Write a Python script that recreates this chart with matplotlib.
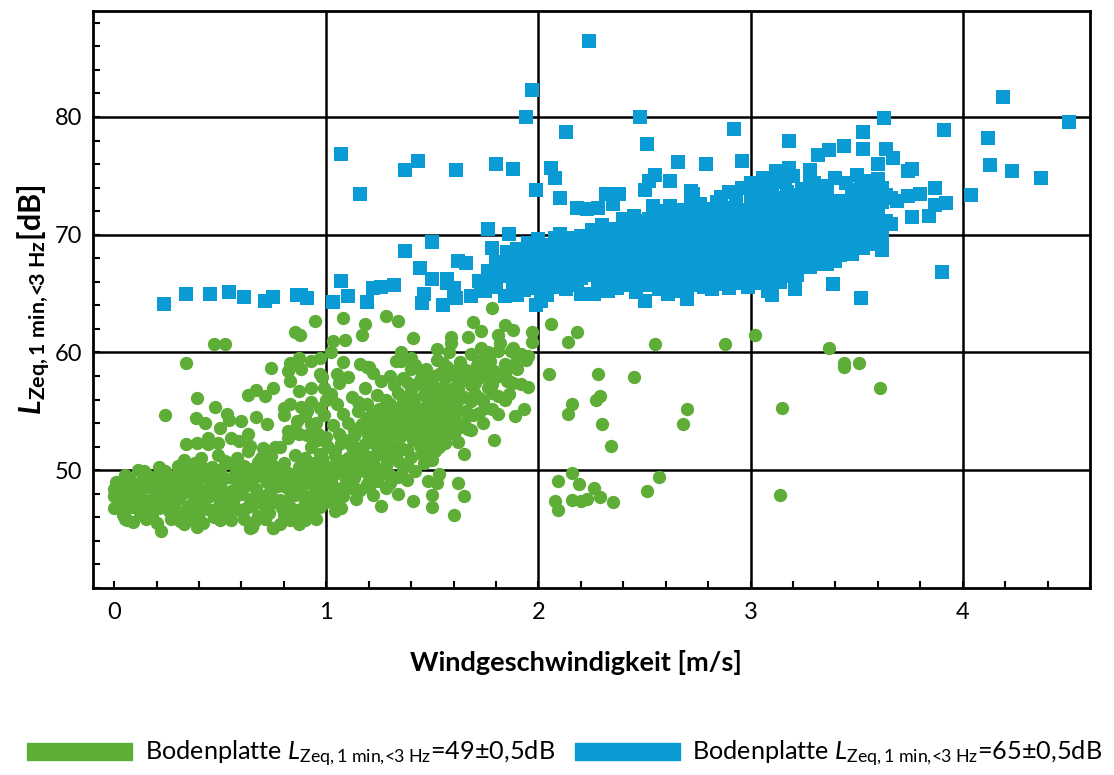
import numpy as np
import matplotlib
matplotlib.use('Agg')
import matplotlib.pyplot as plt
from matplotlib.patches import Patch
from matplotlib.ticker import MultipleLocator

# colours of the two measuring series
GREEN = '#5DAD36'
BLUE = '#0A9BD5'

# green series: Bodenplatte 49 dB, dense low-wind core
green_core = [
    (0.09, 45.6), (0.2, 45.5), (0.31, 45.7), (0.42, 45.5), (0.55, 45.8), (0.66, 45.6), (0.78, 45.4), (0.88, 45.7),
    (0.22, 44.8), (0.06, 45.8), (0.33, 45.4), (0.39, 45.2), (0.64, 45.1), (0.75, 45.1), (0.87, 45.4),
    (0.04, 46.2), (0.12, 46.4), (0.18, 46.1), (0.26, 46.5), (0.33, 46.2), (0.4, 46.4), (0.47, 46.0), (0.53, 46.3),
    (0.6, 46.5), (0.68, 46.1), (0.73, 46.4), (0.8, 46.2), (0.86, 46.6), (0.93, 46.3),
    (0.02, 47.1), (0.08, 46.9), (0.14, 47.2), (0.21, 46.8), (0.27, 47.1), (0.35, 47.0), (0.41, 47.3), (0.49, 46.9),
    (0.56, 47.2), (0.62, 46.8), (0.7, 47.1), (0.76, 47.3), (0.83, 46.9), (0.9, 47.2), (0.97, 46.9),
    (0.0, 47.8), (0.06, 47.6), (0.11, 47.9), (0.17, 47.5), (0.24, 47.8), (0.3, 47.6), (0.37, 47.9), (0.44, 47.7),
    (0.5, 47.5), (0.58, 47.9), (0.64, 47.6), (0.71, 47.8), (0.78, 47.5), (0.85, 47.9), (0.92, 47.7), (0.99, 47.6),
    (0.03, 48.5), (0.09, 48.3), (0.15, 48.6), (0.22, 48.4), (0.28, 48.2), (0.34, 48.6), (0.42, 48.3), (0.47, 48.5),
    (0.55, 48.2), (0.61, 48.6), (0.67, 48.4), (0.74, 48.2), (0.81, 48.6), (0.88, 48.3), (0.95, 48.5), (1.02, 48.2),
    (0.05, 49.1), (0.13, 49.2), (0.19, 48.9), (0.25, 49.3), (0.32, 49.0), (0.39, 49.2), (0.45, 49.0), (0.52, 49.3),
    (0.59, 48.9), (0.65, 49.2), (0.72, 49.0), (0.79, 49.3), (0.84, 49.0), (0.91, 49.2), (0.98, 48.9),
    (0.07, 49.3), (0.14, 49.9), (0.15, 49.7), (0.24, 49.9), (0.29, 49.6), (0.36, 49.9), (0.43, 49.7), (0.5, 50.0),
    (0.57, 49.7), (0.63, 49.9), (0.69, 49.6), (0.76, 50.0), (0.82, 49.8), (0.89, 49.9), (0.96, 49.7),
    (0.3, 50.4), (0.38, 50.6), (0.46, 50.3), (0.54, 50.6), (0.61, 50.4), (0.68, 50.7), (0.75, 50.4), (0.8, 50.6),
    (0.87, 50.3), (0.94, 50.6), (1.0, 50.4),
    (0.33, 50.9), (0.41, 51.0), (0.49, 51.3), (0.58, 51.0), (0.63, 51.6), (0.69, 51.0), (0.74, 51.2), (0.85, 51.3),
    (0.9, 51.0), (0.97, 51.4), (0.76, 52.0),
    (0.34, 52.2), (0.39, 52.3), (0.44, 52.7), (0.44, 52.2), (0.49, 52.3), (0.55, 52.7), (0.59, 52.5), (0.63, 53.1),
    (0.5, 53.6), (0.64, 52.1), (0.7, 51.9), (0.78, 52.0), (0.82, 52.7), (0.82, 53.3), (0.87, 53.1), (0.93, 52.0),
    (0.96, 53.1), (0.93, 53.9),
]

# extra points read from the solid part of the green core and band
green_fill = [
    (0.05, 46.6), (0.16, 46.7), (0.29, 46.6), (0.45, 46.6), (0.58, 46.7), (0.72, 46.6), (0.88, 46.7),
    (0.03, 47.4), (0.14, 47.5), (0.27, 47.4), (0.4, 47.4), (0.53, 47.5), (0.67, 47.4), (0.81, 47.4), (0.95, 47.3),
    (0.06, 48.1), (0.19, 48.0), (0.32, 48.0), (0.46, 48.1), (0.6, 48.0), (0.73, 48.1), (0.86, 48.0),
    (0.1, 48.8), (0.24, 48.7), (0.38, 48.8), (0.5, 48.7), (0.64, 48.8), (0.77, 48.7), (0.93, 48.8),
    (0.2, 49.5), (0.34, 49.5), (0.48, 49.4), (0.6, 49.5), (0.74, 49.4), (0.87, 49.5),
    (0.42, 50.2), (0.58, 50.1), (0.72, 50.2), (0.9, 50.2),
    (0.1, 46.9), (0.23, 47.2), (0.37, 46.7), (0.51, 47.0), (0.65, 47.0), (0.79, 46.8), (0.93, 47.0),
    (0.08, 48.0), (0.2, 48.3), (0.36, 48.3), (0.52, 47.9), (0.68, 48.0), (0.83, 48.2), (0.97, 48.0),
    (0.01, 49.0), (0.17, 49.4), (0.28, 49.0), (0.42, 49.5), (0.56, 49.3), (0.7, 49.4), (0.86, 49.1), (0.98, 49.5),
    (0.11, 50.0), (0.21, 50.3), (0.34, 50.3), (0.52, 50.8), (0.65, 50.1), (0.79, 50.3), (0.94, 50.0), (0.05, 49.6),
    (0.15, 45.9), (0.27, 45.9), (0.37, 45.9), (0.5, 45.8), (0.61, 45.9), (0.71, 45.9), (0.83, 45.8), (0.95, 45.9),
    (0.0, 46.8), (0.0, 48.4),
    (1.02, 49.0), (1.13, 49.3), (1.27, 49.8), (1.07, 50.8), (1.2, 50.4), (1.33, 51.3), (1.45, 51.4), (1.04, 51.6),
    (1.17, 51.7), (1.3, 52.3), (1.43, 52.8), (1.09, 52.6), (1.22, 52.6), (1.36, 53.3), (1.48, 53.3), (1.13, 53.4),
    (1.25, 53.5), (1.41, 54.2), (1.52, 54.2), (1.19, 54.4), (1.3, 54.3), (1.46, 55.2), (1.58, 55.2), (1.25, 55.2),
    (1.35, 55.2), (1.51, 56.1), (1.63, 56.4), (1.41, 56.1), (1.47, 57.1), (1.55, 57.1), (1.62, 56.9), (1.53, 58.2),
    (1.59, 58.4), (1.68, 58.0), (1.5, 58.0), (1.45, 58.2), (1.73, 59.4), (1.64, 57.7), (1.71, 58.9),
    (0.96, 47.9), (1.04, 47.6), (1.14, 47.6), (1.16, 48.3), (1.3, 48.9), (1.38, 49.2), (1.42, 49.9), (1.34, 49.4),
    (1.06, 49.9), (1.2, 49.5), (1.12, 50.7), (1.28, 50.4), (1.38, 50.5), (1.5, 50.9), (1.14, 51.9), (1.24, 51.5),
    (1.35, 51.9), (1.48, 52.3), (1.56, 52.3), (1.2, 52.8), (1.31, 53.2), (1.43, 53.3), (1.54, 53.5), (1.62, 53.6),
    (1.17, 53.9), (1.24, 53.9), (1.36, 54.2), (1.47, 54.3), (1.6, 54.6), (1.66, 55.0), (1.19, 55.6), (1.3, 55.0),
    (1.4, 55.0), (1.52, 55.1), (1.58, 55.7), (1.68, 55.9), (1.28, 56.0), (1.38, 56.2), (1.48, 56.3), (1.56, 56.1),
    (1.62, 56.0), (1.7, 57.4), (1.76, 57.0), (1.42, 57.2), (1.32, 57.2), (1.6, 57.0), (1.72, 56.1), (1.78, 56.6),
    (1.84, 56.0), (1.84, 58.3), (1.9, 59.6), (1.88, 58.9), (1.7, 58.3), (1.75, 58.0), (1.62, 58.6), (1.55, 59.1),
    (1.4, 59.5),
]

# green series: rising band between 0.9 and 2 m/s
green_rise = [
    (0.95, 46.8), (1.0, 47.3), (1.05, 46.9), (1.08, 47.8), (1.02, 48.8), (1.07, 48.5), (1.12, 48.9), (0.97, 49.5),
    (1.03, 49.6), (1.09, 49.4), (1.14, 49.8), (1.0, 50.2), (1.05, 50.5), (1.1, 50.3), (1.16, 50.6), (0.98, 51.0),
    (1.04, 51.2), (1.1, 51.0), (1.15, 51.4), (1.2, 51.1), (1.01, 52.0), (1.07, 52.3), (1.12, 52.0), (1.18, 52.2),
    (1.24, 52.0), (1.0, 52.8), (1.06, 53.1), (1.13, 52.9), (1.19, 53.2), (1.25, 52.8), (1.03, 53.8), (1.1, 54.0),
    (1.16, 53.7), (1.22, 54.1), (1.08, 54.8), (1.15, 55.0), (1.21, 54.7), (1.05, 55.6),
    (0.86, 54.2), (0.9, 54.6), (0.95, 54.0), (0.99, 54.7), (0.88, 55.4), (0.93, 55.8), (0.97, 55.3), (1.0, 56.0),
    (0.85, 53.5), (0.91, 53.0), (0.96, 52.6),
    (1.2, 48.6), (1.24, 49.2), (1.28, 48.5), (1.18, 49.9), (1.25, 50.1), (1.3, 49.6), (1.36, 50.2), (1.22, 50.8),
    (1.28, 51.0), (1.34, 50.8), (1.4, 51.1), (1.46, 50.6), (1.27, 51.8), (1.32, 52.0), (1.38, 51.7), (1.44, 52.1),
    (1.5, 51.6), (1.29, 52.6), (1.35, 52.9), (1.41, 52.6), (1.47, 53.0), (1.52, 52.6), (1.28, 53.6), (1.33, 53.9),
    (1.39, 53.5), (1.45, 53.9), (1.5, 53.6), (1.56, 54.0), (1.27, 54.6), (1.32, 54.9), (1.38, 54.5), (1.43, 54.8),
    (1.49, 54.5), (1.55, 54.9), (1.3, 55.6), (1.36, 55.8), (1.42, 55.5), (1.48, 55.8), (1.54, 55.5), (1.6, 55.9),
    (1.34, 56.6), (1.4, 56.8), (1.46, 56.4), (1.52, 56.7), (1.58, 56.5), (1.38, 57.5), (1.44, 57.7), (1.5, 57.4),
    (1.56, 57.8), (1.62, 57.4),
    (1.55, 53.0), (1.6, 54.1), (1.62, 55.0), (1.65, 56.2), (1.68, 57.2), (1.6, 58.1), (1.66, 58.5), (1.72, 57.8),
    (1.7, 56.5), (1.75, 55.3), (1.57, 58.8), (1.63, 59.2), (1.52, 59.4), (1.47, 58.6), (1.42, 58.9), (1.77, 59.3),
    (1.84, 59.0), (1.9, 58.6), (1.94, 59.4), (1.88, 60.4), (1.82, 60.8), (1.73, 60.4), (1.68, 59.9), (1.58, 60.0),
    (1.8, 57.9), (1.86, 57.6), (1.72, 54.9), (1.65, 54.0), (1.58, 53.2), (1.62, 52.4), (1.53, 52.0), (1.68, 53.4),
    (1.12, 56.2), (1.18, 57.0), (1.24, 56.4), (1.26, 57.6), (1.22, 58.3), (1.3, 58.0), (1.33, 59.3), (1.15, 55.8),
    (1.02, 56.5), (1.06, 57.4), (0.98, 57.9),
    (1.76, 60.0), (1.81, 60.1), (1.87, 60.1), (1.92, 59.9), (1.95, 59.7), (1.74, 58.7), (1.79, 58.4), (1.82, 58.2),
    (1.85, 57.6), (1.88, 57.4), (1.92, 57.3), (1.95, 57.1), (1.78, 57.3), (1.81, 56.3), (1.86, 56.5), (1.74, 55.9),
    (1.78, 55.2), (1.81, 54.8), (1.69, 54.7), (1.74, 54.0), (1.89, 54.6), (1.93, 55.2), (1.67, 53.5), (1.79, 52.6),
    (1.65, 51.4), (1.51, 51.6), (1.6, 53.1),
]

# green series: scattered single points
green_spread = [
    (0.946, 62.7), (0.85, 61.7), (0.875, 61.5), (0.47, 60.7), (0.52, 60.7), (0.34, 59.1), (1.08, 62.9), (1.18, 62.4),
    (1.17, 61.5), (1.28, 63.1), (1.09, 61.1), (1.03, 61.0), (1.02, 60.0), (1.08, 59.2), (1.16, 59.0), (1.19, 58.75),
    (1.05, 58.2), (1.1, 57.9), (0.74, 58.7), (0.24, 54.7), (0.39, 56.1), (0.475, 55.4), (0.385, 54.4), (0.43, 54.0),
    (0.53, 54.8), (0.54, 54.3), (0.67, 54.5), (0.72, 53.9), (0.6, 54.2), (0.8, 54.7), (0.83, 55.6), (0.91, 55.0),
    (0.63, 56.4), (0.67, 56.8), (0.71, 56.3), (0.75, 57.0), (0.83, 57.6), (0.83, 59.1), (0.87, 59.5), (0.93, 59.3),
    (0.97, 59.5), (0.82, 58.4), (0.88, 58.6), (0.8, 55.3), (0.87, 56.7), (0.93, 57.0), (0.99, 57.0), (0.97, 58.2),
    (1.02, 56.1), (0.75, 45.1), (0.9, 45.8), (0.65, 45.2), (1.26, 47.0), (1.04, 46.5), (0.01, 48.6), (0.05, 45.9),
    (1.34, 62.7), (1.41, 61.2), (1.78, 63.8), (1.59, 61.3), (1.59, 60.8), (1.69, 62.6), (1.73, 61.8), (1.67, 61.3),
    (1.84, 62.3), (1.88, 61.9), (1.81, 61.5), (1.97, 61.7), (1.97, 60.9), (1.52, 60.3), (1.35, 60.0), (1.35, 59.3),
    (1.2, 58.8), (1.4, 58.6), (1.36, 57.8),
    (1.67, 53.5), (1.53, 49.7), (1.48, 49.1), (1.52, 48.9), (1.62, 48.9), (1.65, 47.8), (1.5, 47.9), (1.5, 46.9),
    (1.6, 46.2), (1.41, 47.4), (1.34, 48.0), (1.22, 47.9), (1.24, 49.1), (1.19, 48.8), (1.12, 48.5), (1.07, 46.8),
    (2.05, 58.2), (2.06, 62.4), (2.18, 61.7), (2.14, 60.9), (2.16, 55.6), (2.14, 54.8), (2.28, 58.2), (2.29, 56.3),
    (2.27, 56.0), (2.3, 53.9), (2.34, 52.1), (2.45, 57.9), (2.55, 60.7), (2.88, 60.7), (3.02, 61.5), (3.37, 60.4),
    (3.44, 59.1), (3.44, 58.8), (3.51, 59.1), (3.61, 57.0), (3.15, 55.3), (2.7, 55.2), (2.68, 53.9),
    (2.16, 49.8), (2.09, 49.1), (2.19, 48.8), (2.08, 47.4), (2.09, 46.6), (2.16, 47.5), (2.2, 47.4), (2.23, 47.6),
    (2.26, 48.5), (2.29, 47.7), (2.35, 47.3), (2.51, 48.2), (2.57, 49.4), (3.14, 47.9),
]

# blue series: Bodenplatte 65 dB
blue_low = [
    (0.235, 64.1), (0.34, 65.0), (0.45, 65.0), (0.54, 65.1), (0.61, 64.7), (0.71, 64.4), (0.75, 64.7), (0.86, 64.9),
    (0.88, 64.9), (0.91, 64.6), (1.03, 64.3), (1.07, 66.1), (1.1, 64.8), (1.19, 64.3), (1.22, 65.5), (1.26, 65.6),
    (1.32, 65.7), (1.37, 68.6), (1.44, 67.2), (1.45, 64.2), (1.46, 65.0), (1.5, 66.2), (1.5, 69.4), (1.55, 64.0),
    (1.57, 65.9), (1.6, 65.5), (1.61, 64.6), (1.62, 67.8), (1.66, 67.6), (1.68, 64.8), (1.73, 65.6), (1.57, 66.2),
    (1.6, 64.6), (1.78, 68.9), (1.76, 70.5), (1.86, 70.1), (1.9, 64.9), (1.99, 64.0), (2.01, 64.4), (2.2, 65.0),
]

blue_core = [
    (1.75, 65.2), (1.84, 64.8), (1.93, 65.3), (2.04, 64.9), (2.13, 65.4), (2.26, 65.0), (2.37, 65.5), (2.46, 65.1),
    (2.57, 65.4), (2.66, 65.2), (2.78, 65.6), (2.9, 65.5),
    (1.72, 66.1), (1.8, 65.9), (1.88, 66.2), (1.96, 65.8), (2.04, 66.1), (2.12, 66.0), (2.2, 66.3), (2.28, 65.9),
    (2.36, 66.2), (2.44, 66.0), (2.52, 66.3), (2.6, 65.9), (2.68, 66.2), (2.76, 66.0), (2.84, 66.3), (2.92, 66.1),
    (3.0, 66.4), (3.08, 66.2), (3.16, 66.5),
    (1.76, 66.9), (1.84, 66.7), (1.92, 67.0), (2.0, 66.6), (2.08, 66.9), (2.16, 66.7), (2.24, 67.0), (2.32, 66.8),
    (2.4, 67.1), (2.48, 66.7), (2.56, 66.9), (2.64, 67.1), (2.72, 66.8), (2.8, 67.0), (2.88, 66.7), (2.96, 67.1),
    (3.04, 66.9), (3.12, 67.2), (3.2, 66.9), (3.28, 67.3),
    (1.8, 67.7), (1.88, 67.5), (1.96, 67.8), (2.04, 67.4), (2.12, 67.7), (2.2, 67.5), (2.28, 67.8), (2.36, 67.6),
    (2.44, 67.9), (2.52, 67.5), (2.6, 67.7), (2.68, 67.9), (2.76, 67.6), (2.84, 67.8), (2.92, 67.5), (3.0, 67.9),
    (3.08, 67.7), (3.16, 68.0), (3.24, 67.7), (3.32, 68.0), (3.4, 67.8),
    (1.85, 68.5), (1.93, 68.3), (2.01, 68.6), (2.09, 68.2), (2.17, 68.5), (2.25, 68.3), (2.33, 68.6), (2.41, 68.4),
    (2.49, 68.7), (2.57, 68.3), (2.65, 68.5), (2.73, 68.7), (2.81, 68.4), (2.89, 68.6), (2.97, 68.3), (3.05, 68.7),
    (3.13, 68.5), (3.21, 68.8), (3.29, 68.5), (3.37, 68.8), (3.45, 68.6), (3.53, 68.9),
    (1.95, 69.3), (2.03, 69.1), (2.11, 69.4), (2.19, 69.0), (2.27, 69.3), (2.35, 69.1), (2.43, 69.4), (2.51, 69.2),
    (2.59, 69.5), (2.67, 69.1), (2.75, 69.3), (2.83, 69.5), (2.91, 69.2), (2.99, 69.4), (3.07, 69.1), (3.15, 69.5),
    (3.23, 69.3), (3.31, 69.6), (3.39, 69.3), (3.47, 69.6), (3.55, 69.4), (3.62, 69.7),
    (2.1, 70.1), (2.2, 69.9), (2.3, 70.2), (2.38, 69.9), (2.46, 70.2), (2.54, 70.0), (2.62, 70.3), (2.7, 69.9),
    (2.78, 70.1), (2.86, 70.3), (2.94, 70.0), (3.02, 70.2), (3.1, 69.9), (3.18, 70.3), (3.26, 70.1), (3.34, 70.4),
    (3.42, 70.1), (3.5, 70.4), (3.58, 70.2),
    (2.3, 70.8), (2.42, 71.0), (2.52, 70.7), (2.6, 71.0), (2.68, 70.8), (2.76, 71.1), (2.84, 70.7), (2.92, 70.9),
    (3.0, 71.1), (3.08, 70.8), (3.16, 71.0), (3.24, 70.7), (3.32, 71.1), (3.4, 70.9), (3.48, 71.2), (3.56, 70.9),
    (3.64, 71.2),
    (2.45, 71.6), (2.58, 71.8), (2.7, 71.5), (2.8, 71.8), (2.88, 71.6), (2.96, 71.9), (3.04, 71.5), (3.12, 71.8),
    (3.2, 71.6), (3.28, 71.9), (3.36, 71.6), (3.44, 71.9), (3.52, 71.7), (3.6, 72.0),
    (2.62, 72.4), (2.76, 72.6), (2.9, 72.3), (3.0, 72.6), (3.1, 72.4), (3.18, 72.7), (3.26, 72.3), (3.34, 72.6),
    (3.42, 72.4), (3.5, 72.7), (3.58, 72.5),
    (2.86, 73.2), (3.0, 73.4), (3.12, 73.1), (3.22, 73.4), (3.32, 73.2), (3.5, 73.3), (3.58, 73.6), (3.66, 73.1),
    (2.96, 74.0), (3.1, 74.2), (3.24, 73.9), (3.36, 74.1), (3.55, 74.3), (3.62, 74.0),
    (3.06, 74.8), (3.2, 75.0), (3.4, 74.8), (3.5, 75.1), (3.6, 74.7),
]

# extra points read from the solid part of the blue band
blue_fill = [
    (1.8, 66.4), (1.9, 66.5), (2.0, 66.2), (2.1, 66.5), (2.18, 66.4), (2.28, 66.4), (2.38, 66.6), (2.48, 66.3),
    (2.58, 66.5), (2.68, 66.6), (2.78, 66.4), (2.88, 66.5), (2.98, 66.7), (3.1, 66.6),
    (1.84, 67.2), (1.94, 67.3), (2.06, 67.2), (2.16, 67.3), (2.26, 67.3), (2.36, 67.2), (2.46, 67.3), (2.56, 67.4),
    (2.66, 67.3), (2.76, 67.3), (2.86, 67.4), (2.96, 67.3), (3.06, 67.4), (3.16, 67.4), (3.3, 67.5),
    (1.9, 68.0), (2.0, 68.1), (2.1, 68.0), (2.2, 68.1), (2.3, 68.0), (2.4, 68.1), (2.5, 68.1), (2.6, 68.0),
    (2.7, 68.2), (2.8, 68.1), (2.9, 68.0), (3.0, 68.2), (3.1, 68.1), (3.2, 68.2), (3.3, 68.2), (3.42, 68.3),
    (2.0, 68.9), (2.12, 68.8), (2.22, 68.9), (2.32, 68.8), (2.42, 68.9), (2.52, 68.9), (2.62, 68.8), (2.72, 69.0),
    (2.82, 68.9), (2.92, 68.9), (3.02, 69.0), (3.12, 68.9), (3.22, 69.0), (3.32, 69.1), (3.42, 69.0), (3.52, 69.2),
    (2.15, 69.7), (2.25, 69.6), (2.35, 69.7), (2.45, 69.6), (2.55, 69.7), (2.65, 69.7), (2.75, 69.6), (2.85, 69.8),
    (2.95, 69.7), (3.05, 69.7), (3.15, 69.8), (3.25, 69.7), (3.35, 69.9), (3.45, 69.8), (3.55, 69.9),
    (2.36, 70.5), (2.48, 70.4), (2.58, 70.5), (2.66, 70.4), (2.74, 70.6), (2.82, 70.5), (2.9, 70.4), (2.98, 70.6),
    (3.06, 70.5), (3.14, 70.6), (3.22, 70.5), (3.3, 70.7), (3.38, 70.6), (3.46, 70.7), (3.54, 70.6), (3.62, 70.6),
    (2.52, 71.3), (2.64, 71.3), (2.76, 71.4), (2.84, 71.3), (2.92, 71.4), (3.0, 71.3), (3.08, 71.4), (3.16, 71.3),
    (3.24, 71.4), (3.32, 71.4), (3.4, 71.3), (3.48, 71.5), (3.56, 71.4),
    (2.7, 72.1), (2.84, 72.0), (2.95, 72.1), (3.05, 72.1), (3.14, 72.0), (3.22, 72.2), (3.3, 72.1), (3.38, 72.1),
    (3.46, 72.2), (3.54, 72.1),
    (2.93, 72.8), (3.06, 72.9), (3.16, 72.8), (3.27, 72.9), (3.44, 72.9), (3.54, 72.9), (3.05, 73.7), (3.17, 73.6),
    (3.3, 73.6), (3.48, 73.8), (3.12, 74.5), (3.45, 74.4), (3.56, 74.6),
    (1.78, 65.6), (1.88, 65.6), (1.98, 65.5), (2.08, 65.6), (2.18, 65.7), (2.3, 65.6), (2.4, 65.7), (2.5, 65.7),
    (2.62, 65.6), (2.72, 65.7), (2.84, 65.8), (2.96, 65.9), (3.05, 65.9), (3.14, 66.0),
    (1.76, 66.5), (1.86, 66.5), (1.96, 66.4), (2.06, 66.6), (2.14, 66.3), (2.24, 66.6), (2.34, 66.4), (2.42, 66.5),
    (2.54, 66.6), (2.62, 66.4), (2.72, 66.4), (2.82, 66.6), (2.92, 66.6), (3.02, 66.5), (3.14, 66.8), (3.22, 66.6),
    (1.82, 67.3), (1.9, 67.1), (2.02, 67.0), (2.1, 67.3), (2.2, 67.2), (2.3, 67.4), (2.42, 67.5), (2.52, 67.2),
    (2.62, 67.3), (2.72, 67.4), (2.82, 67.2), (2.92, 67.2), (3.02, 67.3), (3.12, 67.6), (3.22, 67.4), (3.36, 67.5),
    (1.86, 68.0), (1.96, 68.2), (2.06, 67.9), (2.16, 68.1), (2.24, 68.2), (2.34, 68.3), (2.46, 68.2), (2.56, 67.9),
    (2.66, 68.2), (2.76, 68.1), (2.86, 68.2), (2.96, 68.1), (3.06, 68.0), (3.16, 68.3), (3.26, 68.1), (3.36, 68.3),
    (3.48, 68.4),
    (1.9, 68.8), (2.06, 68.8), (2.16, 68.9), (2.26, 68.7), (2.36, 68.9), (2.46, 68.9), (2.56, 68.8), (2.68, 68.9),
    (2.78, 68.8), (2.88, 69.0), (2.98, 68.9), (3.08, 68.8), (3.18, 69.0), (3.28, 68.9), (3.38, 69.1), (3.48, 69.0),
    (3.58, 69.2),
    (2.0, 69.6), (2.08, 69.7), (2.2, 69.5), (2.3, 69.7), (2.4, 69.6), (2.5, 69.6), (2.6, 69.8), (2.7, 69.6),
    (2.8, 69.8), (2.9, 69.7), (3.0, 69.8), (3.1, 69.6), (3.2, 69.8), (3.3, 69.8), (3.4, 69.9), (3.5, 69.8), (3.6, 70.0),
    (2.25, 70.4), (2.34, 70.5), (2.44, 70.4), (2.56, 70.6), (2.64, 70.6), (2.72, 70.4), (2.8, 70.5), (2.88, 70.6),
    (2.96, 70.4), (3.04, 70.6), (3.12, 70.4), (3.2, 70.6), (3.28, 70.4), (3.36, 70.6), (3.44, 70.5), (3.52, 70.6),
    (3.6, 70.5),
    (2.4, 71.3), (2.5, 71.2), (2.62, 71.4), (2.72, 71.2), (2.8, 71.3), (2.88, 71.2), (2.96, 71.3), (3.04, 71.2),
    (3.12, 71.3), (3.2, 71.2), (3.28, 71.3), (3.36, 71.2), (3.44, 71.4), (3.52, 71.3), (3.6, 71.5),
    (2.56, 72.0), (2.66, 72.1), (2.78, 72.2), (2.9, 72.0), (3.0, 72.1), (3.1, 72.0), (3.18, 72.2), (3.26, 72.0),
    (3.34, 72.2), (3.42, 72.0), (3.5, 72.2), (3.58, 72.1),
    (2.72, 72.9), (2.84, 72.8), (3.0, 72.8), (3.1, 72.7), (3.2, 72.9), (3.3, 72.7), (3.4, 72.9), (3.5, 72.9),
    (3.62, 72.8), (2.9, 73.6), (3.06, 73.5), (3.2, 73.4), (3.36, 73.4), (3.55, 73.6), (3.64, 73.4),
    (3.0, 74.4), (3.16, 74.6), (3.3, 74.4), (3.52, 74.5), (3.28, 74.9),
]

blue_spread = [
    (1.07, 76.85), (1.16, 73.5), (1.37, 75.5), (1.43, 76.3), (1.61, 75.5), (1.8, 76.0), (1.88, 75.6), (1.97, 82.3),
    (1.94, 80.0), (2.13, 78.7), (2.24, 86.45), (1.99, 73.8), (2.06, 75.7), (2.08, 74.8), (2.1, 73.1), (2.18, 72.3),
    (2.23, 72.2), (2.28, 72.3), (2.35, 72.6), (2.32, 73.5), (2.38, 73.5), (2.48, 80.0), (2.51, 77.7), (2.66, 76.2),
    (2.79, 76.0), (2.96, 76.3), (2.92, 79.0), (2.55, 75.1), (2.52, 74.6), (2.62, 74.6), (2.5, 73.8), (2.73, 73.5),
    (2.54, 72.4), (2.72, 73.7),
    (2.32, 65.3), (2.33, 65.2), (2.5, 64.4), (2.61, 65.0), (2.7, 64.5), (2.82, 65.4), (2.99, 65.6), (3.08, 65.2),
    (3.1, 64.9), (3.21, 65.4), (3.39, 65.8), (3.52, 64.6),
    (3.18, 78.0), (3.63, 79.9), (3.91, 78.9), (3.53, 78.7), (3.53, 77.3), (3.64, 77.3), (3.67, 76.5), (3.37, 77.2),
    (3.32, 76.8), (3.44, 77.5), (3.28, 75.5), (3.18, 75.7), (3.12, 75.4), (3.6, 76.0), (3.74, 75.4), (3.76, 75.6),
    (3.87, 74.0), (3.8, 73.5), (3.92, 72.7), (3.87, 72.5), (3.69, 72.9), (3.74, 73.3), (3.66, 70.9), (3.62, 70.1),
    (3.76, 71.5), (3.84, 71.6), (3.62, 68.7), (3.9, 66.8),
    (4.19, 81.7), (4.5, 79.6), (4.12, 78.2), (4.13, 75.9), (4.23, 75.4), (4.37, 74.8), (4.04, 73.4),
]

x_ticks = [0, 1, 2, 3, 4]
y_ticks = [50, 60, 70, 80]

label_green = r'Bodenplatte $\mathit{L}_{\mathrm{Zeq,1\ min,\!\!<\!\!3\ Hz}}$=49±0,5dB'
label_blue = r'Bodenplatte $\mathit{L}_{\mathrm{Zeq,1\ min,\!\!<\!\!3\ Hz}}$=65±0,5dB'

plt.rcParams['font.family'] = ['Lato', 'DejaVu Sans']
plt.rcParams['mathtext.fontset'] = 'custom'
plt.rcParams['mathtext.rm'] = 'Lato'
plt.rcParams['mathtext.it'] = 'Lato:italic'
plt.rcParams['mathtext.bf'] = 'Lato:bold'
plt.rcParams['mathtext.bfit'] = 'Lato:italic:bold'

fig = plt.figure(figsize=(11.14, 7.75), dpi=100)
ax = fig.add_axes([93 / 1114, 1 - 588 / 775, 997 / 1114, 577 / 775])

green = np.array(green_core + green_fill + green_rise + green_spread)
blue = np.array(blue_low + blue_core + blue_fill + blue_spread)

ax.scatter(green[:, 0], green[:, 1], s=92, marker='o', color=GREEN, linewidths=0, zorder=3)
ax.scatter(blue[:, 0], blue[:, 1], s=88, marker='s', color=BLUE, linewidths=0, zorder=3)

ax.set_xlim(-0.1, 4.6)
ax.set_ylim(40, 89)

# grid only at the labelled values (no line at x=0)
for xv in x_ticks[1:]:
    ax.axvline(xv, color='black', lw=1.8, zorder=1)
for yv in y_ticks:
    ax.axhline(yv, color='black', lw=1.8, zorder=1)

ax.set_xticks(x_ticks)
ax.set_yticks(y_ticks)
ax.xaxis.set_minor_locator(MultipleLocator(0.2))
ax.yaxis.set_minor_locator(MultipleLocator(2))
ax.tick_params(which='both', direction='in', length=5, width=1.5, top=False, right=False)
ax.tick_params(axis='x', labelsize=17, pad=10)
ax.tick_params(axis='y', labelsize=17, pad=8)
for sp in ax.spines.values():
    sp.set_linewidth(2)

ax.set_xlabel('Windgeschwindigkeit [m/s]', fontsize=19.5, fontweight='bold')
ax.xaxis.set_label_coords(0.484, -0.108)
ax.set_ylabel(r'$\mathbfit{L}_{\mathbf{Zeq,1\ min,\!\!<\!\!3\ Hz}}$[dB]', fontsize=22, fontweight='bold', labelpad=1)

handles = [Patch(color=GREEN, label=label_green), Patch(color=BLUE, label=label_blue)]
fig.legend(handles=handles, loc='center', bbox_to_anchor=(0.507, 0.027), ncol=2, frameon=False,
           fontsize=18.2, handlelength=4.15, handleheight=0.66, handletextpad=0.5, columnspacing=0.8)

fig.savefig('out.png', dpi=100)
